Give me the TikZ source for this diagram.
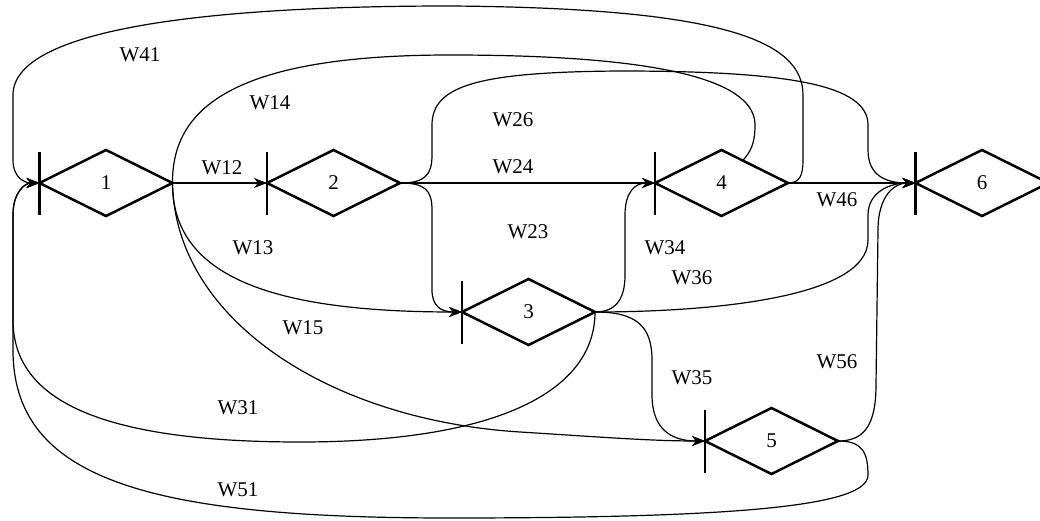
\documentclass[tikz,border=0pt]{standalone}
\usepackage{fontspec}
\setmainfont{Liberation Serif}
\usetikzlibrary{shapes.geometric,arrows.meta,calc}
\begin{document}
\begin{tikzpicture}[x=1pt,y=-1pt,
  st/.style={diamond,draw,line width=2.5pt,minimum width=133pt,minimum height=66pt,inner sep=0pt,outer sep=0pt,font=\fontsize{21}{24}\selectfont},
  edge/.style={line width=1.2pt},
  arr/.style={edge,-{Stealth[length=13pt,width=10pt,inset=4pt]}},
  lbl/.style={font=\fontsize{21}{24}\selectfont,inner sep=0pt},
  bar/.style={line width=2.5pt}]
\useasboundingbox (0,0) rectangle (1040,521);
% states
\node[st] (n1) at (106,183) {1};
\node[st] (n2) at (333.5,183) {2};
\node[st] (n3) at (528.5,312) {3};
\node[st] (n4) at (721.5,183) {4};
\node[st] (n5) at (771.5,441) {5};
\node[st] (n6) at (982,183) {6};
\foreach \n in {n1,n2,n3,n4,n5,n6}
  \draw[bar] ($(\n.west)+(0,-31)$) -- ($(\n.west)+(0,32)$);
\coordinate (c14) at ($(n4.north)!0.32!(n4.east)$);
% connectors
\draw[arr] (n1.east) -- (n2.west);
\draw[arr] (n2.east) -- (n4.west);
\draw[arr] (n4.east) -- (n6.west);
\draw[arr] (n4.east) .. controls (800,183) and (803,175) .. (803,160) -- (803,95) .. controls (803,40) and (720,8) .. (450,6) .. controls (200,6) and (13,30) .. (13,95) -- (13,160) .. controls (13,178) and (25,183) .. (n1.west);
\draw[edge] (n1.east) .. controls (172,110) and (230,55) .. (450,55) .. controls (680,55) and (755,85) .. (755,125) .. controls (755,145) and (750,152) .. (c14);
\draw[arr] (n2.east) .. controls (425,183) and (432,175) .. (432,155) -- (432,125) .. controls (432,85) and (480,72) .. (620,71) .. controls (790,71) and (868,85) .. (868,125) -- (868,150) .. controls (868,175) and (885,183) .. (n6.west);
\draw[arr] (n2.east) .. controls (425,183) and (432,190) .. (432,210) -- (432,290) .. controls (432,305) and (440,312) .. (n3.west);
\draw[arr] (n1.east) .. controls (172,280) and (280,312) .. (n3.west);
\draw[arr] (n1.east) .. controls (175,320) and (330,420) .. (520,432) .. controls (600,437) and (650,441) .. (n5.west);
\draw[arr] (n3.east) .. controls (615,312) and (625,300) .. (625,275) -- (625,215) .. controls (625,192) and (635,183) .. (n4.west);
\draw[arr] (n3.east) .. controls (700,312) and (868,300) .. (868,240) -- (868,215) .. controls (868,192) and (890,183) .. (n6.west);
\draw[arr] (n3.east) .. controls (635,312) and (652,325) .. (652,360) -- (652,395) .. controls (652,428) and (670,441) .. (n5.west);
\draw[arr] (n5.east) .. controls (862,441) and (876,428) .. (876,385) -- (878,230) .. controls (878,195) and (895,183) .. (n6.west);
\draw[arr] (n3.east) .. controls (595,390) and (500,442) .. (300,442) .. controls (100,442) and (13,400) .. (13,320) -- (13,215) .. controls (13,192) and (25,183) .. (n1.west);
\draw[arr] (n5.east) .. controls (862,441) and (868,452) .. (868,475) .. controls (868,505) and (750,518) .. (450,518) .. controls (150,518) and (13,480) .. (13,350) -- (13,215) .. controls (13,192) and (25,183) .. (n1.west);
% labels
\node[lbl] (l41) at (140,55) {W41};
\node[lbl] (l14) at (270,103) {W14};
\node[lbl] (l26) at (513,120) {W26};
\node[lbl] (l12) at (222,168) {W12};
\node[lbl] (l24) at (513,167) {W24};
\node[lbl] (l46) at (837,200) {W46};
\node[lbl] (l13) at (253,248) {W13};
\node[lbl] (l23) at (528,232) {W23};
\node[lbl] (l34) at (665,248) {W34};
\node[lbl] (l36) at (692,278) {W36};
\node[lbl] (l15) at (303,328) {W15};
\node[lbl] (l35) at (692,378) {W35};
\node[lbl] (l56) at (837,362) {W56};
\node[lbl] (l31) at (238,408) {W31};
\node[lbl] (l51) at (238,490) {W51};
\end{tikzpicture}
\end{document}
